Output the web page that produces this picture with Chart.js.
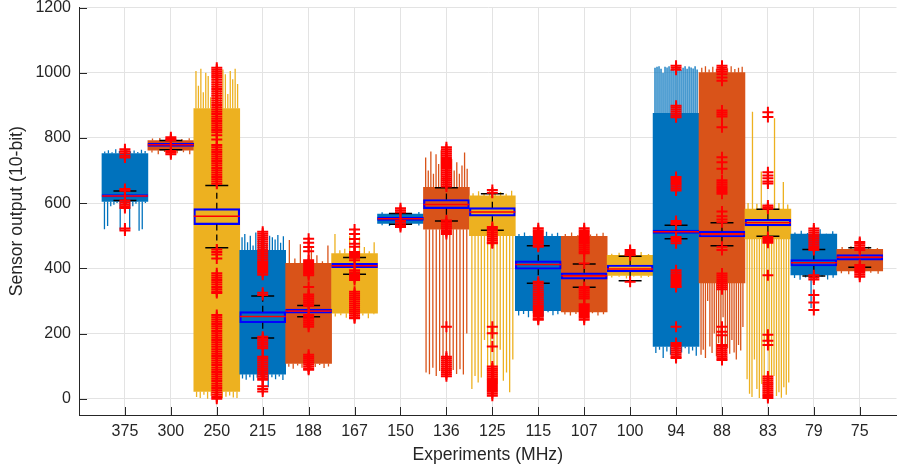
<!DOCTYPE html>
<html><head><meta charset="utf-8">
<script src="https://cdn.jsdelivr.net/npm/chart.js@4.4.1/dist/chart.umd.min.js"></script>
<style>html,body{margin:0;padding:0;background:#fff;}canvas{display:block;}</style>
</head><body>
<canvas id="c" width="904" height="475"></canvas>
<script>
// ---- data ----
const categories = ['375','300','250','215','188','167','150','136','125','115','107','100','94','88','83','79','75'];
const yTickValues = [0,200,400,600,800,1000,1200];

// dense (solid) part of each raw trace
const traceLow  = [605,762, 22, 75,108,262,538,520,500,270,266,378,160,355,490,380,392];
const traceHigh = [752,792,890,455,415,445,566,648,622,498,498,440,875,1000,582,505,458];

// individual spikes leaving the solid part of each trace
const spikeTops = [
  [758,762,756,765,760,754,763,759,761,757,764,760],
  [798,800,796,802,797,799],
  [1005,960,1012,940,1000,990,925,1008,970,1002,950,1010,995,935,1005,980,1012,965],
  [495,505,480,500,470,510,490,485,505,475,500,495,488,502,478,498],
  [487,430,474,425,465,440,422,470],
  [505,455,460,500,470,495,465,452,480],
  [572,570,574,571,569,573],
  [740,700,758,690,750,720,762,680,745,710,735,700,725,690,715,755,705],
  [630,636,628,640,632,634,629,638],
  [505,510,500,508,503,512,506,509],
  [505,510,502,508,504,506,509],
  [445,448,442,446,450,444],
  [1015,1018,1020,1012,1000,1018,1016,1020,1010,1014,1005,1020,1017,1008,1015,1020,1012,1019,1016,1013,1020,1010],
  [1015,1020,1010,1018,1012,1020,1016,1014,1020,1011,1015,1018],
  [600,880,598,697,595,592,860,600,665,596],
  [510,515,508,512,520,506,514],
  [465,468,463,466,462]
];
const spikeBottoms = [
  [520,530,590,595,600,517,598,596,522,590,598,515,520,600],
  [755,750,757,748,753,756,750],
  [5,2,12,0,8,3,15,1,6,10,4,2],
  [62,58,66,55,64,70,58,35,66,60,68,57],
  [98,92,102,95,100,90,97,103,94,99],
  [252,256,248,258,250,255,247,259],
  [532,530,534,528,533,531],
  [80,75,95,70,85,78,100,72,88,76,90,74,200],
  [30,70,50,65,180,40,100,60,45,150,55,80,20,120],
  [255,260,250,262,258,252,265,256,259],
  [258,255,260,252,257,262,255,259],
  [372,374,369,375,371,373],
  [140,150,125,145,135,150,130,142,155,138,148,132],
  [135,150,125,300,160,140,200,130,170,145,250,128,155,138,180,142,120,165,148,220],
  [60,15,5,120,30,2,45,10,180,0,25,70,8,20,3,35,12,50],
  [370,365,372,278,368,374,366,371],
  [385,382,388,384,386,383]
];

// box plot statistics
const boxQ1       = [619,774,534,233,262,402,547,583,560,397,367,389,507,496,530,407,425];
const boxMedian   = [622,779,560,252,269,408,552,596,573,412,377,398,512,505,540,417,434];
const boxQ3       = [626,784,583,267,275,415,557,611,586,423,386,410,517,514,550,427,442];
const whiskerLow  = [608,764,463,186,251,382,535,545,517,354,342,362,491,469,498,376,403];
const whiskerHigh = [637,792,654,315,286,433,568,647,629,469,413,437,532,540,581,458,463];

// outlier markers
const outliers = [
  [765,759,753,745,740,643,638,608,602,596,590,585,522,516],
  [802,797,793,760,755,750],
  [1015,1009,1003,997,991,985,978,971,964,957,950,943,936,929,922,915,908,901,894,887,880,873,866,859,852,845,838,831,824,817,808,795,778,771,764,757,750,743,736,729,722,715,708,701,694,687,680,673,666,659,
   458,450,442,430,385,378,371,364,357,350,343,336,329,324,
   257,250,243,236,229,222,215,208,201,194,187,180,173,166,159,152,145,138,131,124,117,110,103,96,89,82,75,68,61,54,47,40,33,26,19,12,5,0],
  [512,506,500,494,488,482,476,470,464,458,452,446,440,434,428,422,416,410,404,398,392,386,380,325,318,
   190,184,178,172,166,160,155,129,123,117,111,105,99,93,87,81,75,69,63,58,38,30,22],
  [491,478,465,452,425,419,413,407,401,395,389,383,379,343,320,314,308,302,296,290,284,
   257,251,245,239,233,227,221,135,129,123,117,111,105,99,93,89],
  [519,505,490,475,466,450,444,438,432,425,394,388,382,376,370,364,328,322,316,310,304,298,292,286,280,274,268,262,256,250,247],
  [584,578,572,545,538,532,527],
  [771,765,759,753,747,741,735,729,723,717,711,705,699,693,687,681,675,669,663,657,651,
   547,541,535,529,523,517,511,505,221,129,123,117,111,105,99,93,87,81,75,69],
  [640,632,527,521,515,509,503,497,491,485,479,477,221,201,160,99,93,87,81,75,69,63,57,51,45,39,33,27,21,15,9],
  [523,517,511,505,499,493,487,481,475,469,466,359,353,347,341,335,329,323,317,311,305,299,293,287,281,275,269,263,257,251,245,242],
  [523,517,511,505,499,493,487,481,475,469,463,457,451,446,415,343,337,331,325,319,313,307,290,284,278,272,266,260,254,248,242],
  [456,450,444,440,359],
  [1021,1015,1009,899,893,887,881,875,869,863,680,674,668,662,656,650,644,639,545,539,535,496,490,484,477,
   394,388,382,376,370,364,358,352,346,343,221,171,165,159,153,147,141,135,129,125],
  [1021,1015,1009,1003,995,985,975,884,878,872,866,833,741,725,705,670,664,658,652,646,640,634,629,574,560,550,541,466,456,
   384,378,372,366,360,354,348,342,336,221,205,195,165,159,153,147,141,135,129,123,119],
  [879,864,695,685,676,666,660,593,587,583,496,490,484,478,379,196,178,165,68,62,56,50,44,38,32,26,20,14,8,2],
  [522,516,510,504,498,492,486,480,474,468,462,456,379,372,366,318,295,272],
  [481,475,469,462,456,410,404,398,392,386,380,374]
];

// ---- chart construction ----
const palette = ['#0072BD','#D95319','#EDB120'];
const colorOf = i => palette[i % 3];
const pos = i => i + 1;
const FONT = 'Liberation Sans, Arial, Helvetica, sans-serif';
const TXT = '#262626';

const datasets = [];
datasets.push({
  type:'bar', order:10, grouped:false, barPercentage:1, categoryPercentage:1,
  data: categories.map((c,i)=>({x:pos(i), y:[traceLow[i], traceHigh[i]]})),
  backgroundColor: categories.map((c,i)=>colorOf(i)), borderWidth:0
});
categories.forEach((c,i)=>{
  const pts = [];
  const tops = spikeTops[i], bots = spikeBottoms[i];
  tops.forEach((v,k)=>{ const x = pos(i)-0.48+0.96*(k+0.5)/tops.length; pts.push({x,y:traceHigh[i]},{x,y:v},{x,y:null}); });
  bots.forEach((v,k)=>{ const x = pos(i)-0.48+0.96*(k+0.5)/bots.length; pts.push({x,y:traceLow[i]},{x,y:v},{x,y:null}); });
  datasets.push({type:'line', order:9, data:pts, borderColor:colorOf(i), borderWidth:1.3,
    pointRadius:0, spanGaps:false, fill:false, tension:0});
});
datasets.push({
  type:'bar', order:5, grouped:false, barPercentage:1, categoryPercentage:1,
  data: categories.map((c,i)=>({x:pos(i), y:[boxQ1[i], boxQ3[i]]})),
  backgroundColor:'rgba(0,0,0,0)', borderColor:'#0000FF', borderWidth:1.5, borderSkipped:false
});
const whiskerPts = [];
const capPts = [];
const medianPts = [];
categories.forEach((c,i)=>{
  const x = pos(i);
  whiskerPts.push({x,y:boxQ3[i]},{x,y:whiskerHigh[i]},{x,y:null},{x,y:boxQ1[i]},{x,y:whiskerLow[i]},{x,y:null});
  capPts.push({x:x-0.25,y:whiskerHigh[i]},{x:x+0.25,y:whiskerHigh[i]},{x,y:null},
              {x:x-0.25,y:whiskerLow[i]},{x:x+0.25,y:whiskerLow[i]},{x,y:null});
  medianPts.push({x:x-0.5,y:boxMedian[i]},{x:x+0.5,y:boxMedian[i]},{x,y:null});
});
datasets.push({type:'line', order:4, data:whiskerPts, borderColor:'#000', borderWidth:1.3, borderDash:[6,4], pointRadius:0, spanGaps:false});
datasets.push({type:'line', order:3, data:capPts, borderColor:'#000', borderWidth:1.5, pointRadius:0, spanGaps:false});
datasets.push({type:'line', order:2, data:medianPts, borderColor:'#FF0000', borderWidth:1.5, pointRadius:0, spanGaps:false});
datasets.push({
  type:'scatter', order:1,
  data: categories.flatMap((c,i)=>outliers[i].map(v=>({x:pos(i), y:v}))),
  pointStyle:'cross', pointRadius:5.5, borderColor:'#FF0000', borderWidth:2, backgroundColor:'#FF0000', showLine:false
});

const inwardTicks = {
  id:'inwardTicks',
  beforeDatasetsDraw(chart){
    const {ctx, chartArea:a, scales:{x,y}} = chart;
    ctx.save(); ctx.strokeStyle = TXT; ctx.lineWidth = 1; ctx.beginPath();
    x.ticks.forEach(t=>{ const px = Math.round(x.getPixelForValue(t.value))+0.5; ctx.moveTo(px,a.bottom); ctx.lineTo(px,a.bottom-8); });
    y.ticks.forEach(t=>{ const py = Math.round(y.getPixelForValue(t.value))+0.5; ctx.moveTo(a.left,py); ctx.lineTo(a.left+8,py); });
    ctx.stroke(); ctx.restore();
  }
};

new Chart(document.getElementById('c'), {
  type:'scatter',
  data:{datasets},
  plugins:[inwardTicks],
  options:{
    responsive:false, animation:false, devicePixelRatio:1,
    layout:{padding:{top:7,right:0,left:0,bottom:0}},
    plugins:{legend:{display:false}, tooltip:{enabled:false}},
    scales:{
      x:{
        type:'linear', min:0, max:17.8, offset:false,
        afterBuildTicks: s => { s.ticks = categories.map((c,i)=>({value:pos(i)})); },
        afterFit: s => { s.height = 60; s.paddingLeft = 0; s.paddingRight = 0; },
        ticks:{autoSkip:false, maxRotation:0, padding:7, color:TXT, font:{family:FONT, size:16},
          callback:(v,idx)=>categories[idx]},
        grid:{color:'#e3e3e3', drawTicks:false, offset:false},
        border:{color:TXT, width:1},
        title:{display:true, text:'Experiments (MHz)', color:TXT, font:{family:FONT, size:17.6}, padding:{top:0,bottom:9}}
      },
      y:{
        type:'linear', min:-50, max:1200,
        afterBuildTicks: s => { s.ticks = yTickValues.map(v=>({value:v})); },
        afterFit: s => { s.width = 79; s.paddingTop = 0; s.paddingBottom = 0; },
        ticks:{padding:8, color:TXT, font:{family:FONT, size:16}, callback:v=>String(v)},
        grid:{color:'#e3e3e3', drawTicks:false},
        border:{color:TXT, width:1},
        title:{display:true, text:'Sensor output (10-bit)', color:TXT, font:{family:FONT, size:17.6}, padding:{top:7,bottom:0}}
      }
    }
  }
});
</script>
</body></html>
